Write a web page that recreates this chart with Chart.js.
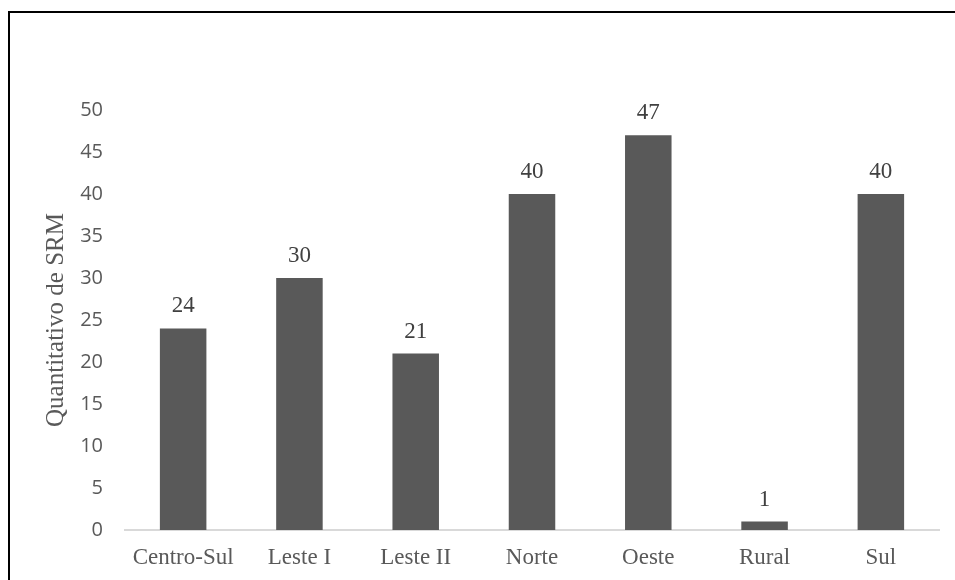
<!DOCTYPE html>
<html>
<head>
<meta charset="utf-8">
<script src="https://cdn.jsdelivr.net/npm/chart.js@4"></script>
<style>
  html, body { margin: 0; padding: 0; background: #fff; }
  #wrap { position: relative; width: 955px; height: 580px; }
  #moldura { position: absolute; left: 8px; top: 11px; width: 960px; height: 600px;
    border-top: 2px solid #000; border-left: 2px solid #000; box-sizing: border-box; }
  canvas { position: absolute; left: 0; top: 0; }
</style>
</head>
<body>
<div id="wrap">
  <div id="moldura"></div>
  <canvas id="grafico" width="955" height="580"></canvas>
</div>
<script>
// Dados do gráfico
const regionais = ['Centro-Sul', 'Leste I', 'Leste II', 'Norte', 'Oeste', 'Rural', 'Sul'];
const quantidades = [24, 30, 21, 40, 47, 1, 40];
const ticksY = [0, 5, 10, 15, 20, 25, 30, 35, 40, 45, 50];

// Plugin simples para escrever o valor acima de cada barra
const rotulosBarras = {
  id: 'rotulosBarras',
  afterDatasetsDraw(chart) {
    const ctx = chart.ctx;
    const meta = chart.getDatasetMeta(0);
    ctx.save();
    ctx.font = '23px "Liberation Serif"';
    ctx.fillStyle = '#404040';
    ctx.textAlign = 'center';
    ctx.textBaseline = 'alphabetic';
    meta.data.forEach(function(barra, i) {
      ctx.fillText(quantidades[i], barra.x, barra.y - 16);
    });
    ctx.restore();
  }
};

new Chart(document.getElementById('grafico'), {
  type: 'bar',
  data: {
    labels: regionais,
    datasets: [{
      data: quantidades,
      backgroundColor: '#595959',
      barPercentage: 0.8,
      categoryPercentage: 0.5
    }]
  },
  options: {
    responsive: false,
    animation: false,
    layout: { padding: { left: 41, right: 16, top: 110, bottom: 0 } },
    plugins: { legend: { display: false }, tooltip: { enabled: false } },
    scales: {
      x: {
        grid: { display: false, drawTicks: false },
        border: { color: '#d9d9d9', width: 2 },
        ticks: { color: '#595959', font: { family: 'Liberation Serif', size: 23 }, padding: 14 },
        afterFit: function(eixo) { eixo.height = 50; }
      },
      y: {
        min: 0,
        max: 50,
        afterBuildTicks: function(eixo) { eixo.ticks = ticksY.map(v => ({ value: v })); },
        grid: { display: false, drawTicks: false },
        border: { display: false },
        ticks: { color: '#595959', font: { family: 'Open Sans', size: 20 }, padding: 22 },
        title: {
          display: true,
          text: 'Quantitativo de SRM',
          color: '#595959',
          font: { family: 'Liberation Serif', size: 25 },
          padding: 0
        },
        afterFit: function(eixo) { eixo.width = 84; }
      }
    }
  },
  plugins: [rotulosBarras]
});
</script>
</body>
</html>
